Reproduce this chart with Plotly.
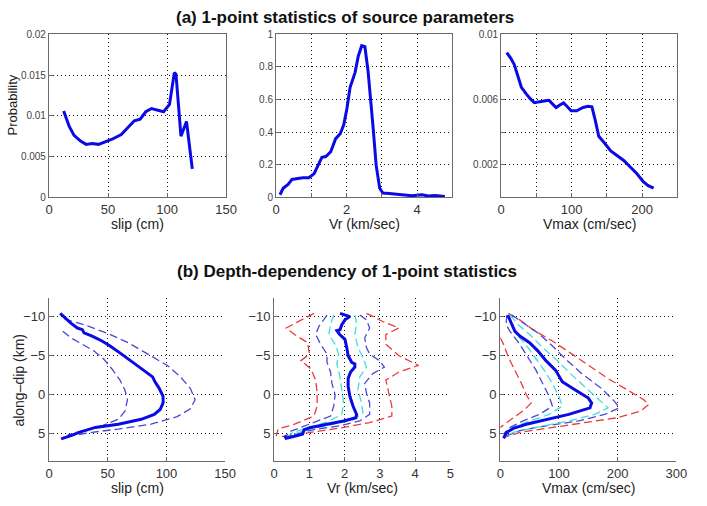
import plotly.graph_objects as go

# ---------------- (a) 1-point statistics ----------------
slip_bins = [12.4, 17.1, 21.2, 26.7, 31.4, 36.4, 41.9, 47.4, 52.9, 61.2, 66.7, 72.2, 77.2,
             81.9, 86.8, 91.5, 97.0, 102.0, 106.1, 107.5, 111.7, 116.4, 121.3]
slip_prob = [0.0106, 0.0087, 0.0076, 0.0069, 0.0065, 0.0066, 0.0065, 0.0068, 0.0071, 0.0077,
             0.0085, 0.0094, 0.0096, 0.0105, 0.0109, 0.0107, 0.0105, 0.0114, 0.0153, 0.0151,
             0.0075, 0.0093, 0.0035]

vr_bins = [0.11, 0.20, 0.34, 0.45, 0.62, 0.76, 0.93, 1.08, 1.19, 1.30, 1.41, 1.55, 1.69, 1.82,
           1.92, 2.01, 2.10, 2.24, 2.33, 2.43, 2.52, 2.61, 2.75, 2.84, 2.94, 3.03, 3.21, 3.40,
           3.58, 3.86, 4.14, 4.32, 4.51, 4.79]
vr_prob = [0.016, 0.056, 0.08, 0.11, 0.116, 0.12, 0.12, 0.146, 0.196, 0.245, 0.25, 0.28, 0.36,
           0.39, 0.445, 0.545, 0.675, 0.765, 0.864, 0.93, 0.924, 0.774, 0.435, 0.196, 0.056,
           0.026, 0.024, 0.02, 0.012, 0.01, 0.016, 0.008, 0.012, 0.006]

vmax_bins = [7.8, 13.4, 18.5, 24.0, 28.6, 35.5, 41.1, 47.0, 54.9, 60.9, 67.8, 72.4, 77.9, 82.6,
             88.6, 93.2, 99.2, 107.0, 116.2, 123.2, 128.7, 133.3, 138.4, 146.2, 155.4, 164.7,
             173.9, 183.1, 192.3, 201.6, 208.5, 216.3]
vmax_prob = [0.00888, 0.00854, 0.00814, 0.00735, 0.00675, 0.00635, 0.00605, 0.00581, 0.00589,
             0.00591, 0.00595, 0.00575, 0.00551, 0.00565, 0.00579, 0.00559, 0.00531, 0.00531,
             0.00551, 0.00559, 0.00555, 0.00475, 0.00375, 0.00335, 0.00285, 0.00255, 0.00226,
             0.00186, 0.00146, 0.00096, 0.00072, 0.00056]

# ---------------- (b) depth dependency ----------------
slip_mean_d = [-10.42, -9.66, -9.16, -8.53, -8.32, -7.9, -7.49, -6.86, -6.23, -5.18, -3.93, -3.09,
               -2.25, -1.62, -0.78, 0.26, 1.10, 1.94, 2.57, 3.20, 3.83, 4.24, 4.87, 5.29, 5.71]
slip_mean_v = [9.5, 14.5, 18.6, 24.2, 28.4, 29.8, 36.7, 45.1, 52.0, 61.8, 72.9, 81.3, 88.2, 90.2,
               93.8, 97.1, 97.1, 94.6, 89.6, 78.5, 59.0, 39.5, 25.6, 18.6, 10.3]
slip_hi_d = [-9.7, -9.16, -8.74, -7.78, -6.65, -5.18, -3.72, -2.25, -0.78, 0.68, 1.86, 2.86,
             3.83, 4.45, 4.87, 5.29, 5.63]
slip_hi_v = [13.1, 25.6, 34.0, 50.6, 67.4, 84.1, 100.8, 111.9, 120.3, 124.4, 120.3, 109.1, 86.8,
             59.0, 36.7, 20.0, 11.7]
slip_lo_d = [-8.11, -7.28, -6.44, -5.6, -4.55, -3.30, -1.83, -0.57, 0.68, 2.15, 3.20, 4.03,
             4.66, 5.21]
slip_lo_v = [11.7, 18.6, 28.4, 38.1, 46.5, 53.4, 60.4, 64.6, 66.8, 64.6, 59.0, 45.1, 28.4, 15.9]

vr_mean_d = [-10.42, -10.0, -9.58, -8.95, -8.32, -8.2, -7.7, -7.07, -6.02, -4.97, -4.13, -3.93,
             -3.51, -2.88, -2.04, -1.0, 0.26, 1.52, 2.57, 2.99, 3.41, 3.83, 4.24, 4.54, 5.08,
             5.37, 5.63, 5.29]
vr_mean_v = [1.87, 2.15, 2.01, 1.92, 1.87, 1.78, 1.86, 2.01, 2.06, 2.10, 2.20, 2.29, 2.29, 2.17,
             2.10, 2.10, 2.15, 2.24, 2.34, 2.32, 1.97, 1.50, 1.04, 0.85, 0.81, 0.58, 0.34, 0.30]
vr_blo_d = [-10.2, -8.74, -7.7, -6.44, -5.18, -4.13, -2.88, -1.41, 0.05, 1.52, 2.78, 3.62, 4.24,
            4.87, 5.5]
vr_blo_v = [1.50, 1.27, 1.18, 1.32, 1.50, 1.50, 1.60, 1.64, 1.73, 1.69, 1.60, 1.13, 0.76, 0.39,
            0.34]
vr_bhi_d = [-10.2, -9.58, -8.53, -7.28, -6.02, -5.18, -4.34, -3.51, -2.67, -1.41, -0.16, 1.10,
            2.57, 3.41, 4.03, 4.45, 4.87, 5.29]
vr_bhi_v = [2.43, 2.62, 2.71, 2.57, 2.62, 2.71, 2.99, 3.13, 2.80, 2.57, 2.62, 2.71, 2.71, 2.43,
            1.87, 1.22, 0.76, 0.44]
vr_clo_d = [-10.2, -8.95, -7.7, -6.44, -5.18, -3.93, -2.25, -0.57, 1.10, 2.57, 3.53, 4.24, 4.87,
            5.37]
vr_clo_v = [1.69, 1.60, 1.55, 1.73, 1.83, 1.78, 1.87, 1.92, 1.97, 1.92, 1.50, 1.04, 0.53, 0.39]
vr_chi_d = [-10.2, -9.16, -7.7, -6.02, -4.76, -3.51, -2.25, -0.57, 1.10, 2.36, 3.28, 3.83, 4.45,
            5.08]
vr_chi_v = [2.29, 2.34, 2.29, 2.38, 2.52, 2.62, 2.43, 2.38, 2.48, 2.52, 2.24, 1.69, 1.04, 0.58]
vr_rlo_d = [-10.42, -9.37, -8.53, -7.7, -6.65, -5.18, -4.34, -3.30, -1.83, -0.16, 1.52, 2.78,
            3.83, 4.45, 5.37]
vr_rlo_v = [1.13, 0.67, 0.34, 0.58, 0.95, 1.0, 0.76, 1.04, 1.18, 1.22, 1.22, 1.13, 0.58, 0.11,
            0.06]
vr_rhi_d = [-10.42, -9.37, -8.53, -7.7, -6.44, -4.97, -3.72, -2.88, -1.83, -0.16, 1.52, 2.78,
            3.62, 4.24, 4.87, 5.5]
vr_rhi_v = [2.62, 3.08, 3.54, 3.17, 3.17, 3.54, 4.10, 3.54, 3.17, 3.25, 3.34, 3.34, 2.71, 1.97,
            1.04, 0.11]

vm_mean_d = [-10.2, -9.58, -8.74, -8.11, -7.49, -6.65, -5.6, -4.34, -3.09, -2.04, -1.62, -0.57,
             0.47, 1.10, 1.73, 2.57, 3.20, 3.83, 4.37, 4.87, 5.63]
vm_mean_v = [12.8, 16.7, 22.2, 25.0, 33.3, 50.0, 63.9, 77.8, 94.4, 102.8, 105.6, 127.8, 150.0,
             155.6, 152.8, 116.7, 77.8, 44.4, 22.2, 11.1, 5.6]
vm_clo_d = [-10.2, -8.95, -7.49, -6.02, -4.55, -3.09, -1.41, 0.26, 1.52, 2.57, 3.41, 4.24, 5.21]
vm_clo_v = [13.9, 19.4, 30.6, 47.2, 61.1, 75.0, 88.9, 100.0, 105.6, 83.3, 50.0, 22.2, 8.3]
vm_chi_d = [-10.2, -8.95, -7.7, -6.02, -4.34, -2.67, -0.57, 0.89, 1.73, 2.57, 3.41, 4.24, 4.87,
            5.5]
vm_chi_v = [16.7, 30.6, 50.0, 72.2, 97.2, 119.4, 150.0, 172.2, 183.3, 161.1, 116.7, 61.1, 22.2,
            8.3]
vm_blo_d = [-10.2, -8.95, -8.11, -6.44, -4.76, -3.09, -1.41, 0.26, 1.52, 2.57, 3.41, 4.24, 5.08]
vm_blo_v = [11.1, 10.0, 16.7, 33.3, 47.2, 61.1, 72.2, 83.3, 88.9, 66.7, 38.9, 16.7, 5.6]
vm_bhi_d = [-10.2, -9.16, -7.91, -6.23, -4.55, -2.67, -0.78, 0.89, 1.73, 2.57, 3.41, 4.03, 4.66,
            5.29]
vm_bhi_v = [19.4, 38.9, 63.9, 88.9, 111.1, 138.9, 172.2, 194.4, 202.8, 177.8, 133.3, 77.8, 33.3,
            11.1]
vm_rlo_d = [-7.28, -6.44, -4.76, -3.09, -1.41, 0.05, 1.10, 1.94, 2.99, 3.83, 4.24]
vm_rlo_v = [0.0, 5.6, 13.9, 25.0, 36.1, 44.4, 52.8, 41.7, 22.2, 5.6, 0.0]
vm_rhi_d = [-10.42, -9.58, -8.32, -6.86, -5.18, -3.51, -2.04, -0.57, 0.68, 1.31, 2.15, 2.99,
            3.62, 4.24, 4.87, 5.5]
vm_rhi_v = [13.9, 33.3, 55.6, 88.9, 122.2, 155.6, 183.3, 216.7, 244.4, 252.8, 238.9, 200.0,
            144.4, 88.9, 33.3, 8.3]

BLUE = "#0a0ae6"
DBLUE = "#4848d8"
CYAN = "#40dede"
RED = "#ea3a3a"
FONT = "Liberation Sans, Arial, sans-serif"

fig = go.Figure()


def line(x, y, ax, color, width, dash="solid"):
    fig.add_trace(go.Scatter(x=x, y=y, xaxis="x" + ax, yaxis="y" + ax, mode="lines",
                             line=dict(color=color, width=width, dash=dash),
                             showlegend=False, hoverinfo="skip"))


# top row
line(slip_bins, slip_prob, "", BLUE, 3)
line(vr_bins, vr_prob, "2", BLUE, 3)
line(vmax_bins, vmax_prob, "3", BLUE, 3)

DASH = "8px,4px"
# bottom 1
line(slip_hi_v, slip_hi_d, "4", DBLUE, 1.3, DASH)
line(slip_lo_v, slip_lo_d, "4", DBLUE, 1.3, DASH)
line(slip_mean_v, slip_mean_d, "4", BLUE, 3)
# bottom 2
line(vr_rlo_v, vr_rlo_d, "5", RED, 1.3, DASH)
line(vr_rhi_v, vr_rhi_d, "5", RED, 1.3, DASH)
line(vr_blo_v, vr_blo_d, "5", DBLUE, 1.3, DASH)
line(vr_bhi_v, vr_bhi_d, "5", DBLUE, 1.3, DASH)
line(vr_clo_v, vr_clo_d, "5", CYAN, 1.3, DASH)
line(vr_chi_v, vr_chi_d, "5", CYAN, 1.3, DASH)
line(vr_mean_v, vr_mean_d, "5", BLUE, 3)
# bottom 3
line(vm_rlo_v, vm_rlo_d, "6", RED, 1.3, DASH)
line(vm_rhi_v, vm_rhi_d, "6", RED, 1.3, DASH)
line(vm_blo_v, vm_blo_d, "6", DBLUE, 1.3, DASH)
line(vm_bhi_v, vm_bhi_d, "6", DBLUE, 1.3, DASH)
line(vm_clo_v, vm_clo_d, "6", CYAN, 1.3, DASH)
line(vm_chi_v, vm_chi_d, "6", CYAN, 1.3, DASH)
line(vm_mean_v, vm_mean_d, "6", BLUE, 3)

W, H = 707, 506


def px(x0, x1):
    return [x0 / W, x1 / W]


def py(y0, y1):
    return [1 - y1 / H, 1 - y0 / H]


AX = dict(showgrid=True, griddash="1px,3px", gridcolor="#111", gridwidth=1.2, zeroline=False,
          showline=True, linecolor="#6a6a6a", linewidth=1.2, ticks="inside", ticklen=4,
          tickcolor="#6a6a6a", tickfont=dict(family=FONT, size=13, color="#333"))


def ax(**kw):
    d = dict(AX)
    d.update(kw)
    return d


top_y = py(29, 196)
bot_y = py(299, 466)
small = dict(family=FONT, size=10, color="#444")

fig.update_layout(
    width=W, height=H, margin=dict(l=0, r=0, t=0, b=0),
    paper_bgcolor="white", plot_bgcolor="white",
    xaxis=ax(domain=px(46, 227), range=[0, 150], tickvals=[0, 50, 100, 150], mirror=True,
             anchor="y"),
    yaxis=ax(domain=top_y, range=[0, 0.02], tickvals=[0, 0.005, 0.01, 0.015, 0.02],
             ticktext=["0", "0.005", "0.01", "0.015", "0.02"], mirror=True, tickfont=small,
             anchor="x"),
    xaxis2=ax(domain=px(278, 458), range=[0, 5], tickvals=[0, 1, 2, 3, 4, 5],
              ticktext=["0", "", "2", "", "4", ""], mirror=True, anchor="y2"),
    yaxis2=ax(domain=top_y, range=[0, 1], tickvals=[0, 0.2, 0.4, 0.6, 0.8, 1],
              ticktext=["0", "0.2", "0.4", "0.6", "0.8", "1"], mirror=True, tickfont=small,
              anchor="x2"),
    xaxis3=ax(domain=px(508, 688), range=[0, 250], tickvals=[0, 50, 100, 150, 200, 250],
              ticktext=["0", "", "100", "", "200", ""], mirror=True, anchor="y3"),
    yaxis3=ax(domain=top_y, range=[0, 0.01], tickvals=[0.002, 0.004, 0.006, 0.008, 0.01],
              ticktext=["0.002", "", "0.006", "", "0.01"], mirror=True, tickfont=small,
              anchor="x3"),
    xaxis4=ax(domain=px(46, 226), range=[0, 150], tickvals=[0, 50, 100, 150], anchor="y4"),
    yaxis4=ax(domain=bot_y, range=[8.55, -12.4], tickvals=[-10, -5, 0, 5], anchor="x4"),
    xaxis5=ax(domain=px(276, 456), range=[0, 5], tickvals=[0, 1, 2, 3, 4, 5], anchor="y5"),
    yaxis5=ax(domain=bot_y, range=[8.55, -12.4], tickvals=[-10, -5, 0, 5], anchor="x5"),
    xaxis6=ax(domain=px(507, 687), range=[0, 300], tickvals=[0, 100, 200, 300], anchor="y6"),
    yaxis6=ax(domain=bot_y, range=[8.55, -12.4], tickvals=[-10, -5, 0, 5], anchor="x6"),
)


def ann(text, x, y, size=14, bold=False, angle=0, color="#222", yanchor="middle"):
    fig.add_annotation(text=("<b>%s</b>" % text) if bold else text, x=x / W, y=1 - y / H,
                       xref="paper", yref="paper", showarrow=False, textangle=angle,
                       xanchor="center", yanchor=yanchor,
                       font=dict(family=FONT, size=size, color=color))


ann("(a) 1-point statistics of source parameters", 348, 0, size=17, bold=True, color="#111",
    yanchor="top")
ann("(b) Depth-dependency of 1-point statistics", 350, 272, size=17, bold=True, color="#111")
ann("slip (cm)", 136, 223)
ann("Vr (km/sec)", 368, 223)
ann("Vmax (cm/sec)", 598, 223)
ann("slip (cm)", 136, 494)
ann("Vr (km/sec)", 366, 494)
ann("Vmax (cm/sec)", 597, 494)
ann("Probability", 9, 101, size=13, angle=-90)
ann("along\u2013dip (km)", 15, 383, angle=-90)

fig.write_html("out.html")
